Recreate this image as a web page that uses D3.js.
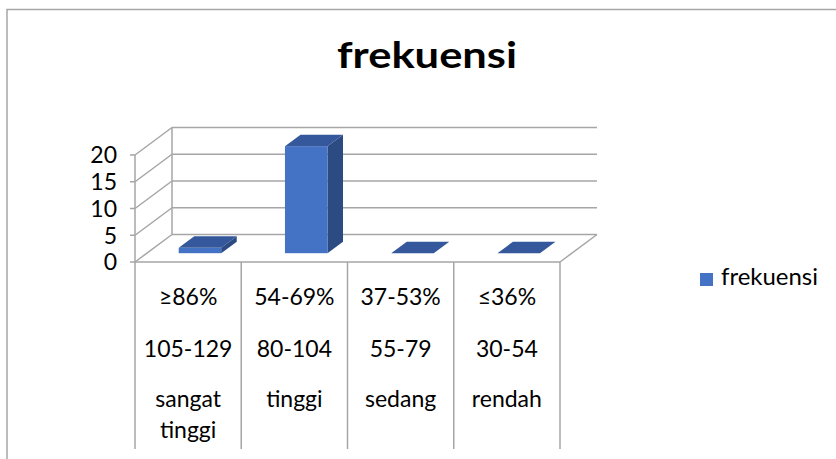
<!DOCTYPE html>
<html><head><meta charset="utf-8">
<script src="https://cdn.jsdelivr.net/npm/d3@7"></script>
<style>html,body{margin:0;padding:0;background:#fff;}svg{display:block;}</style>
</head><body>
<script>
const title = "frekuensi";
const seriesName = "frekuensi";
const categories = [
  ["≥86%", "105-129", "sangat", "tinggi"],
  ["54-69%", "80-104", "tinggi"],
  ["37-53%", "55-79", "sedang"],
  ["≤36%", "30-54", "rendah"]
];
const values = [1, 20, 0, 0];
const yTicks = [0, 5, 10, 15, 20];

const W = 836, H = 459;
const font = "Lato, 'Open Sans', sans-serif";
const svg = d3.select("body").append("svg").attr("width", W).attr("height", H);

// chart border
svg.append("path").attr("d", `M7,${H}V9.5H${W}`).attr("fill","none").attr("stroke","#a6a6a6").attr("stroke-width",1.5);

// 3D geometry
const x0 = 135, x1 = 560, yFloor = 262;
const dX = 37, dY = -27.5;
const x = d3.scaleBand().domain(d3.range(categories.length)).range([x0, x1]);
const y = d3.scaleLinear().domain([0, 20]).range([yFloor, 155]);
const grid = "#a6a6a6";

// back wall gridlines
yTicks.forEach(t => {
  svg.append("line").attr("x1", x0 + dX).attr("x2", x1 + dX)
    .attr("y1", y(t) + dY).attr("y2", y(t) + dY)
    .attr("stroke", grid).attr("stroke-width", 1.5);
  svg.append("line").attr("x1", x0).attr("y1", y(t)).attr("x2", x0 + dX).attr("y2", y(t) + dY)
    .attr("stroke", grid).attr("stroke-width", 1.5);
  svg.append("line").attr("x1", x0 - 5).attr("x2", x0).attr("y1", y(t)).attr("y2", y(t))
    .attr("stroke", grid).attr("stroke-width", 1.5);
  svg.append("text").attr("x", 117).attr("y", y(t)).attr("dy", "0.36em")
    .attr("text-anchor", "end").attr("font-family", font).attr("font-size", 23)
    .attr("fill", "#000").text(t);
});
svg.append("line").attr("x1", x0 + dX).attr("x2", x0 + dX).attr("y1", y(20) + dY).attr("y2", yFloor + dY)
  .attr("stroke", grid).attr("stroke-width", 1.5);
svg.append("line").attr("x1", x0).attr("x2", x0).attr("y1", y(20)).attr("y2", yFloor)
  .attr("stroke", grid).attr("stroke-width", 1.5);
svg.append("line").attr("x1", x1).attr("y1", yFloor).attr("x2", x1 + dX).attr("y2", yFloor + dY)
  .attr("stroke", grid).attr("stroke-width", 1.5);
svg.append("line").attr("x1", x0).attr("y1", yFloor).attr("x2", x1).attr("y2", yFloor)
  .attr("stroke", grid).attr("stroke-width", 1.5);

// category dividers
d3.range(categories.length + 1).forEach(i => {
  const xx = i < categories.length ? x(i) : x1;
  svg.append("line").attr("x1", xx).attr("x2", xx).attr("y1", yFloor).attr("y2", 449)
    .attr("stroke", grid).attr("stroke-width", 1.5);
});

// bars
const dF = 0.32, dB = 0.74;
const bw = x.bandwidth() * 0.4;
values.forEach((v, i) => {
  const cx = x(i) + x.bandwidth() / 2;
  const fx = cx - bw / 2 + dF * dX, fyb = y(0) + dF * dY, fyt = y(v) + dF * dY;
  const ox = (dB - dF) * dX, oy = (dB - dF) * dY;
  if (v > 0) {
    svg.append("path").attr("d", `M${fx+bw},${fyb}L${fx+bw+ox},${fyb+oy}L${fx+bw+ox},${fyt+oy}L${fx+bw},${fyt}Z`)
      .attr("fill", "#2c4b83");
    svg.append("rect").attr("x", fx).attr("y", fyt).attr("width", bw).attr("height", fyb - fyt)
      .attr("fill", "#4472c4");
  }
  svg.append("path").attr("d", `M${fx},${fyt}L${fx+ox},${fyt+oy}L${fx+bw+ox},${fyt+oy}L${fx+bw},${fyt}Z`)
    .attr("fill", "#34589b");
});

// category labels
const rowY = [305, 357, 407, 438];
categories.forEach((lines, i) => {
  const cx = x(i) + x.bandwidth() / 2;
  lines.forEach((t, j) => {
    svg.append("text").attr("x", cx).attr("y", rowY[j]).attr("text-anchor", "middle")
      .attr("font-family", font).attr("font-size", 23).attr("fill", "#000").text(t);
  });
});

// title
svg.append("text").attr("x", 337).attr("y", 68)
  .attr("font-family", font).attr("font-weight", "bold").attr("font-size", 36)
  .attr("textLength", 180).attr("lengthAdjust", "spacingAndGlyphs")
  .attr("fill", "#000").text(title);

// legend
svg.append("rect").attr("x", 700).attr("y", 273).attr("width", 13).attr("height", 13).attr("fill", "#4472c4");
svg.append("text").attr("x", 721).attr("y", 285).attr("font-family", font).attr("font-size", 23)
  .attr("textLength", 97).attr("lengthAdjust", "spacingAndGlyphs")
  .attr("fill", "#000").text(seriesName);
</script>
</body></html>
